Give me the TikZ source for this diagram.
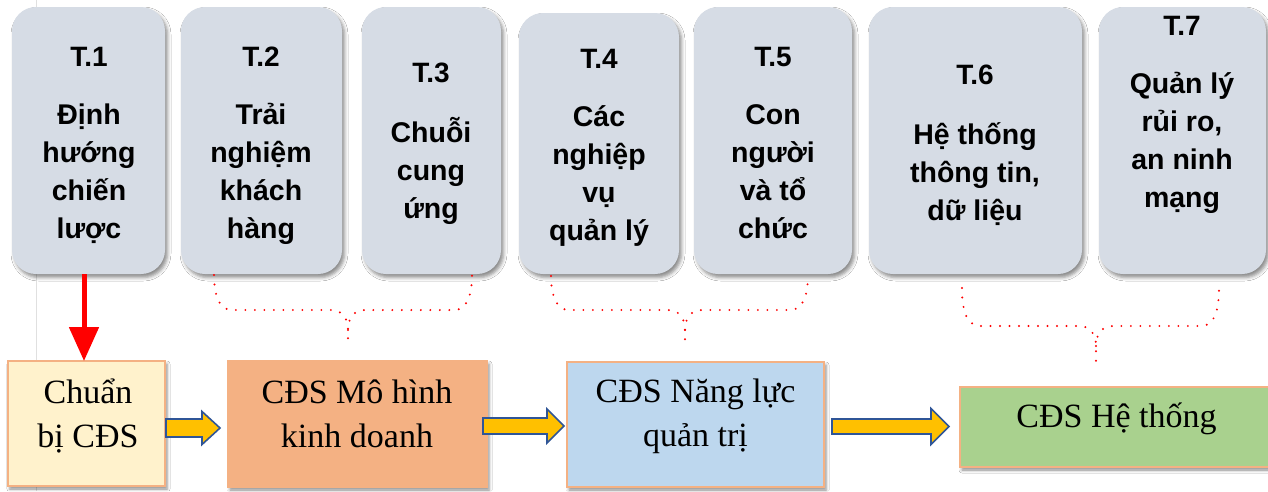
\documentclass[tikz,border=0pt]{standalone}
\usepackage{fontspec}
\setmainfont{Liberation Serif}
\newfontfamily\headfont{Liberation Sans}
\usetikzlibrary{shadows.blur,arrows.meta,calc}
\definecolor{topfill}{HTML}{D6DCE5}
\definecolor{bordc}{HTML}{F4B183}
\definecolor{fchuan}{HTML}{FFF2CC}
\definecolor{fmohinh}{HTML}{F4B183}
\definecolor{fnangluc}{HTML}{BDD7EE}
\definecolor{fhethong}{HTML}{A9D18E}
\definecolor{arrfill}{HTML}{FFC000}
\definecolor{arrdraw}{HTML}{2F5597}
\newcommand\mybrace[6]{%
  \draw[brace] (#1,#3) .. controls (#1,#4-20) and (#1+3,#4) .. (#1+18,#4) -- (#5-17,#4) .. controls (#5-6,#4) and (#5,#4+8) .. (#5,#4+20) -- (#5,#6);
  \draw[brace] (#5,#4+20) .. controls (#5,#4+8) and (#5+6,#4) .. (#5+17,#4) -- (#2-18,#4) .. controls (#2-3,#4) and (#2,#4-20) .. (#2,#3);
}
\newcommand\blkarrow[6]{%
  \draw[blk] (#1,#3-#4) -- (#6,#3-#4) -- (#6,#3-#5) -- (#2,#3) -- (#6,#3+#5) -- (#6,#3+#4) -- (#1,#3+#4) -- cycle;
}
\newcommand\ttl[1]{{\fontsize{28}{37.7}\selectfont #1}}
\begin{document}
\begin{tikzpicture}[x=1pt,y=-1pt,
  tbox/.style={fill=topfill, rounded corners=24pt, anchor=north west, inner sep=0pt, outer sep=0pt,
    blur shadow={shadow xshift=2.5pt, shadow yshift=-3.5pt, shadow blur radius=3.5pt, shadow opacity=45}},
  ttext/.style={font=\headfont\bfseries\fontsize{28.5}{37.7}\selectfont, align=center, anchor=base, inner sep=0pt},
  bbox/.style={draw=bordc, line width=1.3pt, anchor=north west, inner sep=0pt, outer sep=0pt,
    blur shadow={shadow xshift=2pt, shadow yshift=-3pt, shadow blur radius=3pt, shadow opacity=45}},
  btext/.style={font=\fontsize{34}{43.5}\selectfont, align=center, anchor=base, inner sep=0pt},
  brace/.style={red, line width=2.2pt, dash pattern=on 0pt off 9.5pt, line cap=round},
  blk/.style={fill=arrfill, draw=arrdraw, line width=1.6pt, line join=miter}
]
\useasboundingbox (0,0) rectangle (1268,491);
\fill[white] (0,0) rectangle (1268,491);
\draw[black!12, line width=0.8pt] (36,0) -- (36,491);

% top boxes
\node[tbox, minimum width=153pt, minimum height=267pt] (t1) at (12,7) {};
\node[tbox, minimum width=161pt, minimum height=267pt] (t2) at (181,7) {};
\node[tbox, minimum width=139pt, minimum height=267pt] (t3) at (362,7) {};
\node[tbox, minimum width=160pt, minimum height=261pt] (t4) at (519,13) {};
\node[tbox, minimum width=158pt, minimum height=267pt] (t5) at (694,7) {};
\node[tbox, minimum width=213pt, minimum height=267pt] (t6) at (869,7) {};
\node[tbox, minimum width=167pt, minimum height=267pt] (t7) at (1099,7) {};

\node[ttext] (t1x) at (89,238) {\ttl{T.1}\\[20.5pt]Định\\hướng\\chiến\\lược};
\node[ttext] (t2x) at (261,238) {\ttl{T.2}\\[20.5pt]Trải\\nghiệm\\khách\\hàng};
\node[ttext] (t3x) at (431,218) {\ttl{T.3}\\[22pt]Chuỗi\\cung\\ứng};
\node[ttext] (t4x) at (599,240) {\ttl{T.4}\\[21pt]Các\\nghiệp\\vụ\\quản lý};
\node[ttext] (t5x) at (773,238) {\ttl{T.5}\\[21pt]Con\\người\\và tổ\\chức};
\node[ttext] (t6x) at (975,220) {\ttl{T.6}\\[22pt]Hệ thống\\thông tin,\\dữ liệu};
\node[ttext] (t7x) at (1182,207) {\ttl{T.7}\\[21pt]Quản lý\\rủi ro,\\an ninh\\mạng};

% bottom boxes
\node[bbox, fill=fchuan, minimum width=157pt, minimum height=125pt] (chuan) at (8,361) {};
\node[bbox, fill=fmohinh, minimum width=259pt, minimum height=126pt] (mohinh) at (228,361) {};
\node[bbox, fill=fnangluc, minimum width=257pt, minimum height=125pt] (nangluc) at (567,362) {};
\node[bbox, fill=fhethong, minimum width=320pt, minimum height=80pt] (hethong) at (960,387) {};

\node[btext] (chuantx) at (88,447) {Chuẩn\\bị CĐS};
\node[btext] (mohinhtx) at (357,447) {CĐS Mô hình\\kinh doanh};
\node[btext] (nangluctx) at (695.5,446) {CĐS Năng lực\\quản trị};
\node[btext] (hethongtx) at (1116.5,427) {CĐS Hệ thống};

% red arrow
\coordinate (ra) at ($(t1.south)+(-4.5,0)$);
\coordinate (rb) at (ra |- chuan.north);
\draw[red, line width=5pt, -{Triangle[width=29pt,length=34pt]}] (ra) -- (rb);

% dotted braces
\mybrace{214}{472}{275}{310}{348}{346}
\mybrace{551}{808}{276}{310}{685}{346}
\mybrace{962}{1219}{288}{326}{1096}{361}

% block arrows
\blkarrow{166}{220}{428}{9}{16.5}{202}
\blkarrow{483}{564}{426}{8}{17}{547}
\blkarrow{832}{949}{426.5}{7.5}{18}{931}
\end{tikzpicture}
\end{document}
